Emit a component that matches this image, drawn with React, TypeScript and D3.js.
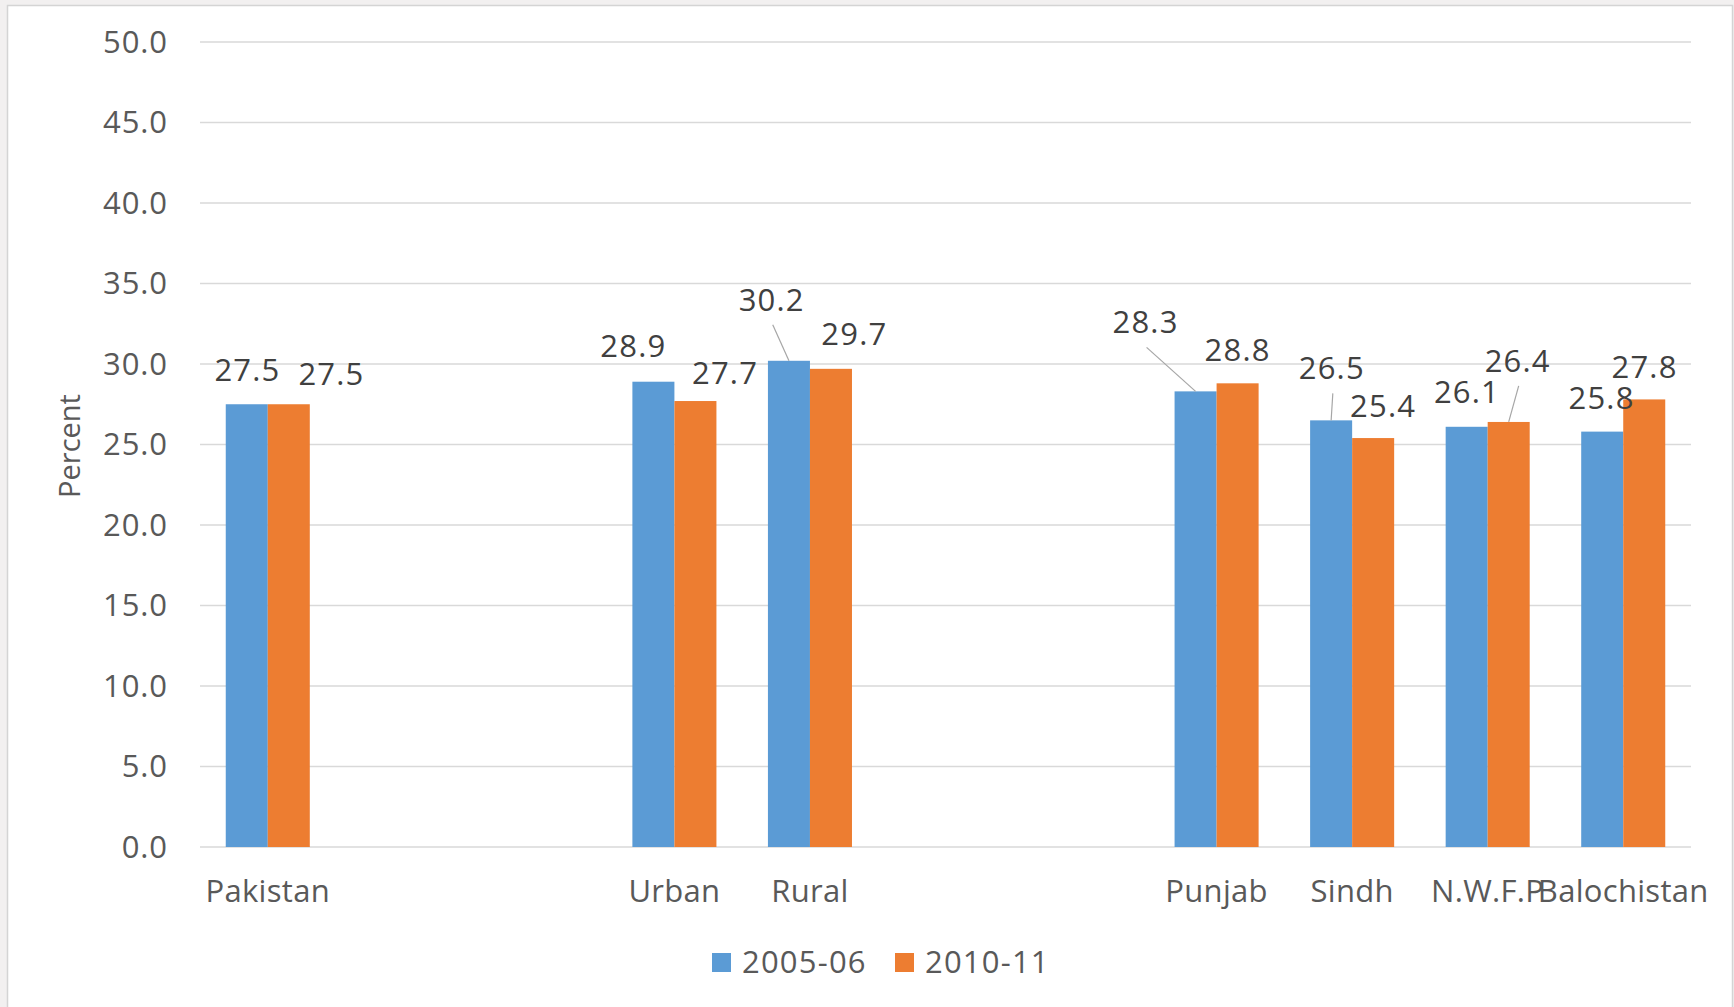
import React from "react";
import * as d3 from "d3";

// Category slots along the x axis ("" = empty spacer slot)
const categories = [
  "Pakistan", "", "", "Urban", "Rural", "", "", "Punjab", "Sindh", "N.W.F.P", "Balochistan",
];
const series = ["2005-06", "2010-11"];
const values2005 = [27.5, null, null, 28.9, 30.2, null, null, 28.3, 26.5, 26.1, 25.8];
const values2010 = [27.5, null, null, 27.7, 29.7, null, null, 28.8, 25.4, 26.4, 27.8];
const yTicks = [0, 5, 10, 15, 20, 25, 30, 35, 40, 45, 50];
const colors = ["#5B9BD5", "#ED7D31"];

// Manual data-label placement: [dx from bar centre, dy from bar top, leader?]
const labelPlacement2005: [number, number, boolean][] = [
  [0.7, -23.5, false], [0, 0, false], [0, 0, false], [-20, -24.4, false], [-17.2, -50, true],
  [0, 0, false], [0, 0, false], [-50, -58, true], [0.7, -41, true], [0.3, -24, false], [-0.7, -22.6, false],
];
const labelPlacement2010: [number, number, boolean][] = [
  [42.7, -19, false], [0, 0, false], [0, 0, false], [29.6, -17, false], [23.4, -23.8, false],
  [0, 0, false], [0, 0, false], [0, -22.3, false], [10, -21.4, false], [9, -50, true], [0.3, -21, false],
];

const W = 1734;
const H = 1007;
const FONT = "'Open Sans', 'Noto Sans', 'DejaVu Sans', sans-serif";

export default function App() {
  const x0 = d3.scaleBand<string>()
    .domain(categories.map((_, i) => String(i)))
    .range([200, 1691])
    .paddingInner(0)
    .paddingOuter(0);
  const bw = x0.bandwidth();
  const groupW = bw * 0.62;
  const x1 = d3.scaleBand<string>()
    .domain(series)
    .range([(bw - groupW) / 2, (bw + groupW) / 2])
    .padding(0);
  const y = d3.scaleLinear().domain([0, 50]).range([847, 42]);

  const allSeries = [values2005, values2010];
  const placements = [labelPlacement2005, labelPlacement2010];

  return (
    <svg
      width={W}
      height={H}
      style={{ position: "absolute", left: 0, top: 0, display: "block" }}
      fontFamily={FONT}
    >
      <rect x={0} y={0} width={W} height={H} fill="#f2f0f0" />
      <rect x={7.5} y={5.5} width={W - 9} height={H} fill="#ffffff" stroke="#d4d4d4" strokeWidth={1.5} />

      {/* gridlines */}
      {yTicks.map((t) => (
        <line key={"g" + t} x1={200} x2={1691} y1={y(t)} y2={y(t)} stroke="#d9d9d9" strokeWidth={1.5} />
      ))}
      {/* y tick labels */}
      {yTicks.map((t) => (
        <text key={"t" + t} x={168} y={y(t) + 10.9} textAnchor="end" fontSize={31} letterSpacing={0.9} fill="#595959">
          {d3.format(".1f")(t)}
        </text>
      ))}
      <text
        transform={`translate(80,446) rotate(-90)`}
        textAnchor="middle"
        fontSize={29}
        fill="#595959"
      >
        Percent
      </text>

      {/* bars */}
      {allSeries.map((vals, s) =>
        vals.map((v, i) =>
          v == null ? null : (
            <rect
              key={`b${s}-${i}`}
              x={(x0(String(i)) as number) + (x1(series[s]) as number)}
              y={y(v)}
              width={x1.bandwidth()}
              height={y(0) - y(v)}
              fill={colors[s]}
            />
          )
        )
      )}

      {/* data labels and leader lines */}
      {allSeries.map((vals, s) =>
        vals.map((v, i) => {
          if (v == null) return null;
          const cx = (x0(String(i)) as number) + (x1(series[s]) as number) + x1.bandwidth() / 2;
          const top = y(v);
          const [dx, dy, leader] = placements[s][i];
          const lx = cx + dx;
          const ly = top + dy;
          return (
            <g key={`l${s}-${i}`}>
              {leader && (
                <line x1={lx + 1} y1={ly + 14} x2={cx} y2={top} stroke="#a6a6a6" strokeWidth={1.2} />
              )}
              <text x={lx} y={ly} textAnchor="middle" fontSize={31} letterSpacing={1.2} fill="#404040">
                {d3.format(".1f")(v)}
              </text>
            </g>
          );
        })
      )}

      {/* category labels */}
      {categories.map((c, i) =>
        c ? (
          <text
            key={"c" + i}
            x={(x0(String(i)) as number) + bw / 2}
            y={902}
            textAnchor="middle"
            fontSize={31}
            letterSpacing={0.3}
            fill="#595959"
          >
            {c}
          </text>
        ) : null
      )}

      {/* legend */}
      {series.map((s, k) => {
        const lx = [712, 895][k];
        return (
          <g key={"lg" + s}>
            <rect x={lx} y={953} width={19} height={19} fill={colors[k]} />
            <text x={lx + 30} y={972.5} fontSize={31} letterSpacing={1.2} fill="#595959">
              {s}
            </text>
          </g>
        );
      })}
    </svg>
  );
}
